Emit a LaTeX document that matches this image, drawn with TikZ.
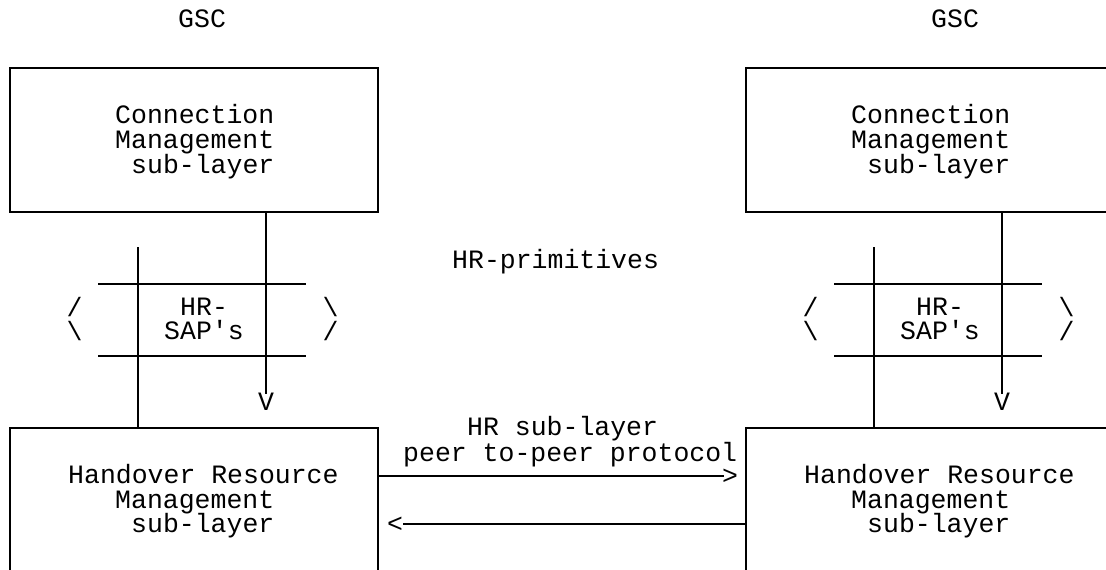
\documentclass[tikz,border=0pt]{standalone}
\usepackage{fontspec}
\setmonofont{Liberation Mono}
\newcommand{\diagfont}{\ttfamily\fontsize{26.5pt}{25pt}\selectfont}
\begin{document}
\begin{tikzpicture}[x=1pt,y=-1pt,
  txt/.style={anchor=base west, inner sep=0pt, font=\diagfont},
  glyph/.style={anchor=base, inner sep=0pt, font=\diagfont, text height=12pt, text depth=0pt},
  box/.style={draw, line width=1.4pt, inner sep=0pt},
  wire/.style={line width=1.4pt}]
\useasboundingbox (0,0) rectangle (1106,570);

% boxes
\node[box, minimum width=368pt, minimum height=144pt] (cmL) at (194,140) {};
\node[box, minimum width=368pt, minimum height=192pt] (hrL) at (194,524) {};
\node[box, minimum width=368pt, minimum height=144pt] (cmR) at (930,140) {};
\node[box, minimum width=368pt, minimum height=192pt] (hrR) at (930,524) {};

% GSC labels
\node[txt] (gscL) at (178,27.6) {GSC};
\node[txt] (gscR) at (931,27.6) {GSC};

% box texts left
\node[txt] (cmL1) at (115,123.6) {Connection};
\node[txt] (cmL2) at (115,148.6) {Management};
\node[txt] (cmL3) at (131,173.1) {sub-layer};
\node[txt] (hrL1) at (68,483.6) {Handover Resource};
\node[txt] (hrL2) at (115,508.1) {Management};
\node[txt] (hrL3) at (131,532.6) {sub-layer};

% box texts right
\node[txt] (cmR1) at (851,123.6) {Connection};
\node[txt] (cmR2) at (851,148.6) {Management};
\node[txt] (cmR3) at (867,173.1) {sub-layer};
\node[txt] (hrR1) at (804,483.6) {Handover Resource};
\node[txt] (hrR2) at (851,508.1) {Management};
\node[txt] (hrR3) at (867,532.6) {sub-layer};

% middle labels
\node[txt] (prim) at (452,268.6) {HR-primitives};
\node[txt] (peer1) at (467,435.6) {HR sub-layer};
\node[txt] (peer2) at (403,461.1) {peer to-peer protocol};

% SAP left
\node[txt] (sapL1) at (180,315.6) {HR-};
\node[txt] (sapL2) at (164,339.6) {SAP's};
\node[glyph] (slL1) at (74.5,316) {/};
\node[glyph] (slL2) at (74.5,340) {\textbackslash};
\node[glyph] (srL1) at (330.5,316) {\textbackslash};
\node[glyph] (srL2) at (330.5,340) {/};
\coordinate (hLa1) at (98,284);  \coordinate (hLb1) at (306,284);
\coordinate (hLa2) at (98,356);  \coordinate (hLb2) at (306,356);
\draw[wire] (hLa1) -- (hLb1);
\draw[wire] (hLa2) -- (hLb2);
\coordinate (sL) at (138,247);
\draw[wire] (sL) -- (sL |- hrL.north);
\coordinate (vL) at (266,394);
\draw[wire] (vL |- cmL.south) -- (vL);
\node[glyph] (vgL) at (266,410) {V};

% SAP right
\node[txt] (sapR1) at (916,315.6) {HR-};
\node[txt] (sapR2) at (900,339.6) {SAP's};
\node[glyph] (slR1) at (810.5,316) {/};
\node[glyph] (slR2) at (810.5,340) {\textbackslash};
\node[glyph] (srR1) at (1066.5,316) {\textbackslash};
\node[glyph] (srR2) at (1066.5,340) {/};
\coordinate (hRa1) at (834,284);  \coordinate (hRb1) at (1042,284);
\coordinate (hRa2) at (834,356);  \coordinate (hRb2) at (1042,356);
\draw[wire] (hRa1) -- (hRb1);
\draw[wire] (hRa2) -- (hRb2);
\coordinate (sR) at (874,247);
\draw[wire] (sR) -- (sR |- hrR.north);
\coordinate (vR) at (1002,394);
\draw[wire] (vR |- cmR.south) -- (vR);
\node[glyph] (vgR) at (1002,410) {V};

% peer protocol arrows
\coordinate (a1) at (724,476);
\draw[wire] (a1 -| hrL.east) -- (a1);
\node[glyph] (gt) at (730,484) {>};
\coordinate (a2) at (403,524);
\draw[wire] (a2 -| hrR.west) -- (a2);
\node[glyph] (lt) at (395,532) {<};
\end{tikzpicture}
\end{document}
